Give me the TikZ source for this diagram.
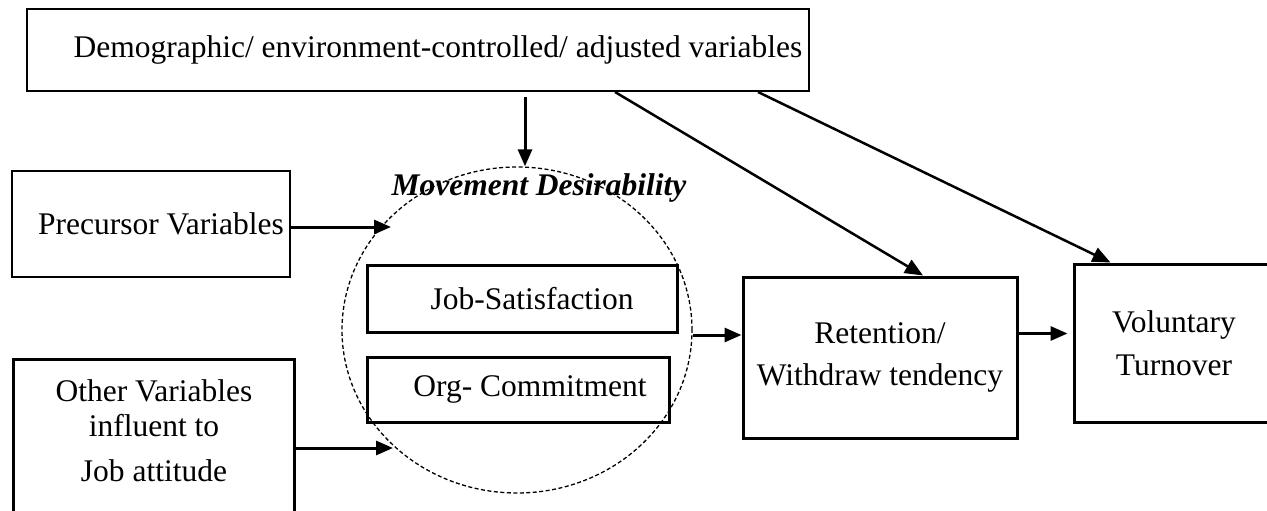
\documentclass[tikz,border=0pt]{standalone}
\usepackage{fontspec}
\setmainfont{Liberation Serif}
\usetikzlibrary{arrows.meta,shapes.geometric}
\begin{document}
\begin{tikzpicture}[x=1pt,y=-1pt,
  every node/.style={font=\fontsize{31.5}{35}\selectfont},
  box/.style={draw, line width=2pt, inner sep=0pt, align=center},
  boxB/.style={box, line width=3pt},
  arr/.style={line width=3pt, -{Triangle[length=17pt,width=14pt]}},
  diag/.style={line width=2.5pt, -{Triangle[length=18pt,width=15pt]}},
  dashell/.style={draw, ellipse, line width=1.3pt, dash pattern=on 4pt off 2.5pt, inner sep=0pt}
]
\useasboundingbox (0,0) rectangle (1267,511);

% dashed ellipse
\node[dashell, minimum width=350pt, minimum height=326pt] (md) at (517,330) {};
\node[font=\fontsize{31.5}{35}\selectfont\bfseries\itshape, anchor=base] (mdt) at (539,195) {Movement Desirability};

% boxes
\node[box, minimum width=782pt, minimum height=82pt] (demo) at (418,50)
  {\hspace*{40pt}Demographic/ environment-controlled/ adjusted variables};
\node[box, minimum width=278pt, minimum height=106pt] (pre) at (151,224)
  {\hspace*{20pt}Precursor Variables};
\node[boxB, minimum width=281pt, minimum height=220pt, anchor=north west,
  label={[inner sep=0pt, align=center, anchor=north, yshift=-21pt]north:{Other Variables\\influent to\\[10pt]Job attitude}}]
  (oth) at (12,358) {};
\node[boxB, minimum width=310pt, minimum height=67pt] (js) at (522,298.5)
  {\hspace*{20pt}Job-Satisfaction};
\node[boxB, minimum width=302pt, minimum height=65pt] (oc) at (518,389.5)
  {\hspace*{24pt}Org- Commitment};
\node[boxB, minimum width=274pt, minimum height=161pt] (ret) at (880,357.5)
  {Retention/\\[7pt]Withdraw tendency};
\node[boxB, minimum width=200pt, minimum height=158pt] (vt) at (1174,343)
  {Voluntary\\[8pt]Turnover};

% connectors
\coordinate (a0) at (525,97);
\draw[arr] (a0) -- (a0 |- md.north);
\draw[diag] ([xshift=197pt]demo.south) -- ([xshift=43pt]ret.north);
\draw[diag] ([xshift=340pt]demo.south) -- ([xshift=38pt]vt.north west);
\draw[arr] ([yshift=-3pt]pre.east) -- ++(100,0);
\draw[arr] ([yshift=-90pt]oth.north east) -- ++(97,0);
\draw[arr] ([yshift=-5pt]md.east) -- ([yshift=-5pt]md.east -| ret.west);
\draw[arr] ([yshift=24pt]ret.east) -- ++(49,0);
\end{tikzpicture}
\end{document}
